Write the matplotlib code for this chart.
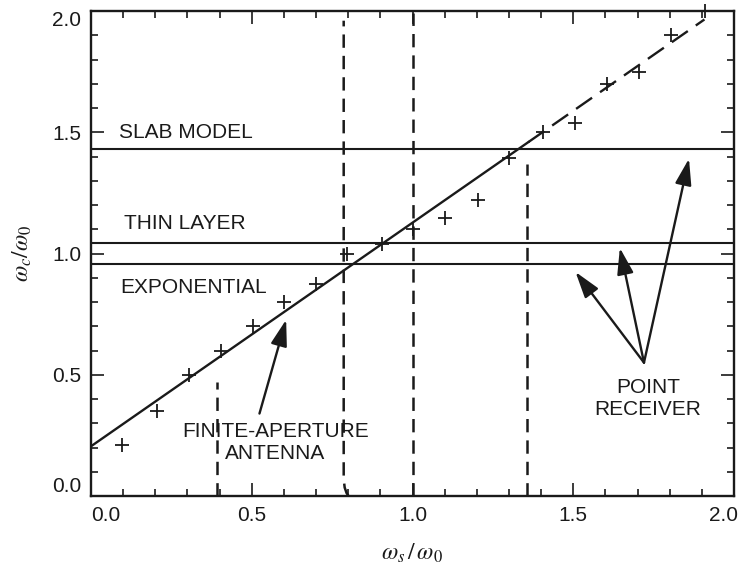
import matplotlib
matplotlib.use("Agg")
import matplotlib.pyplot as plt
from matplotlib.ticker import MultipleLocator, FuncFormatter

# measured points (crosses)
pts_x = [0.095, 0.205, 0.305, 0.405, 0.505, 0.600, 0.700, 0.795, 0.905, 1.000,
         1.100, 1.205, 1.300, 1.405, 1.505, 1.605, 1.705, 1.805, 1.910]
pts_y = [0.21, 0.35, 0.50, 0.60, 0.70, 0.80, 0.875, 1.00, 1.04, 1.10,
         1.145, 1.22, 1.395, 1.50, 1.54, 1.70, 1.75, 1.90, 2.00]

# finite-aperture antenna fit: solid part, then dashed continuation
fit_x = [0.0, 1.36]
fit_y = [0.205, 1.459]
fit_ext_x = [1.36, 1.908]
fit_ext_y = [1.459, 1.965]

# point receiver levels
slab_level = 1.432
thin_level = 1.043
expo_level = 0.955

# vertical dashed markers
vlines_x = [0.391, 1.000, 1.357]
vlines_top = [0.47, 1.99, 1.37]
curve_x = [0.786, 0.786, 0.789, 0.795, 0.801]
curve_y = [1.96, 0.07, 0.035, 0.012, 0.0]

AX_MIN, AX_MAX = 0.0, 2.0

BLACK = "#1a1a1a"
FONT = ["Liberation Sans", "DejaVu Sans"]

plt.rcParams["font.family"] = FONT
plt.rcParams["mathtext.fontset"] = "stix"
plt.rcParams["lines.scale_dashes"] = False

fig = plt.figure(figsize=(7.38, 5.69), dpi=100)
ax = fig.add_axes([91 / 738, 1 - 496 / 569, 643 / 738, 485 / 569])

DASH = (0, (9.6, 5.8))

# horizontal levels
for lvl in (slab_level, thin_level, expo_level):
    ax.plot([AX_MIN, AX_MAX], [lvl, lvl], color=BLACK, lw=1.5, solid_capstyle="butt")

# fit line
ax.plot(fit_x, fit_y, color=BLACK, lw=1.7)
ax.plot(fit_ext_x, fit_ext_y, color=BLACK, lw=1.7, linestyle=(0, (14, 7)))

# vertical dashed lines
for vx, top in zip(vlines_x, vlines_top):
    ax.plot([vx, vx], [0, top], color=BLACK, lw=1.8, linestyle=DASH)
ax.plot(curve_x[::-1], curve_y[::-1], color=BLACK, lw=1.8, linestyle=DASH)

# crosses
ax.plot(pts_x, pts_y, linestyle="none", marker="+", markersize=10,
        markeredgewidth=1.3, color=BLACK, clip_on=False, zorder=5)

# labels
tkw = dict(fontsize=15, color=BLACK, va="baseline")
ax.text(0.088, 1.476, "SLAB MODEL", ha="left", **tkw)
ax.text(0.103, 1.099, "THIN LAYER", ha="left", **tkw)
ax.text(0.090, 0.839, "EXPONENTIAL", ha="left", **tkw)
ax.text(0.574, 0.243, "FINITE-APERTURE", ha="center", **tkw)
ax.text(0.574, 0.151, "ANTENNA", ha="center", **tkw)
ax.text(1.733, 0.426, "POINT", ha="center", **tkw)
ax.text(1.733, 0.333, "RECEIVER", ha="center", **tkw)

# arrows
akw = dict(arrowstyle="-|>,head_length=1.6,head_width=0.5", color=BLACK,
           lw=1.7, shrinkA=0, shrinkB=0)
ax.annotate("", xy=(0.607, 0.727), xytext=(0.524, 0.340), arrowprops=akw)
for tip in [(1.507, 0.924), (1.645, 1.023), (1.860, 1.391)]:
    ax.annotate("", xy=tip, xytext=(1.720, 0.550), arrowprops=akw)

ax.set_xlim(AX_MIN, AX_MAX)
ax.set_ylim(AX_MIN, AX_MAX)


def inner_fmt(v, pos):
    # end labels are drawn separately, tucked inside the axis span
    if abs(v - AX_MIN) < 1e-9 or abs(v - AX_MAX) < 1e-9:
        return ""
    return f"{v:.1f}"


ax.xaxis.set_major_locator(MultipleLocator(0.5))
ax.xaxis.set_minor_locator(MultipleLocator(0.1))
ax.yaxis.set_major_locator(MultipleLocator(0.5))
ax.yaxis.set_minor_locator(MultipleLocator(0.1))
ax.xaxis.set_major_formatter(FuncFormatter(inner_fmt))
ax.yaxis.set_major_formatter(FuncFormatter(inner_fmt))
ax.tick_params(which="both", direction="in", top=True, right=True,
               color=BLACK, width=1.2, labelsize=15, labelcolor=BLACK)
ax.tick_params(which="major", length=9.5, pad=7)
ax.tick_params(which="minor", length=5)
for sp in ax.spines.values():
    sp.set_linewidth(1.7)
    sp.set_color(BLACK)

ekw = dict(fontsize=15, color=BLACK, textcoords="offset points")
ax.annotate(f"{AX_MIN:.1f}", xy=(AX_MIN, 0), xycoords=("data", "axes fraction"),
            xytext=(0, -7), ha="left", va="top", **ekw)
ax.annotate(f"{AX_MAX:.1f}", xy=(AX_MAX, 0), xycoords=("data", "axes fraction"),
            xytext=(3, -7), ha="right", va="top", **ekw)
ax.annotate(f"{AX_MIN:.1f}", xy=(0, AX_MIN), xycoords=("axes fraction", "data"),
            xytext=(-7, 0), ha="right", va="bottom", **ekw)
ax.annotate(f"{AX_MAX:.1f}", xy=(0, AX_MAX), xycoords=("axes fraction", "data"),
            xytext=(-7, 0), ha="right", va="top", **ekw)

ax.set_xlabel(r"$\omega_{s}\,/\,\omega_0$", fontsize=17, color=BLACK, labelpad=12)
ax.set_ylabel(r"$\omega_{c}/\omega_0$", fontsize=17, color=BLACK, labelpad=13)

fig.savefig("out.png", dpi=100)
